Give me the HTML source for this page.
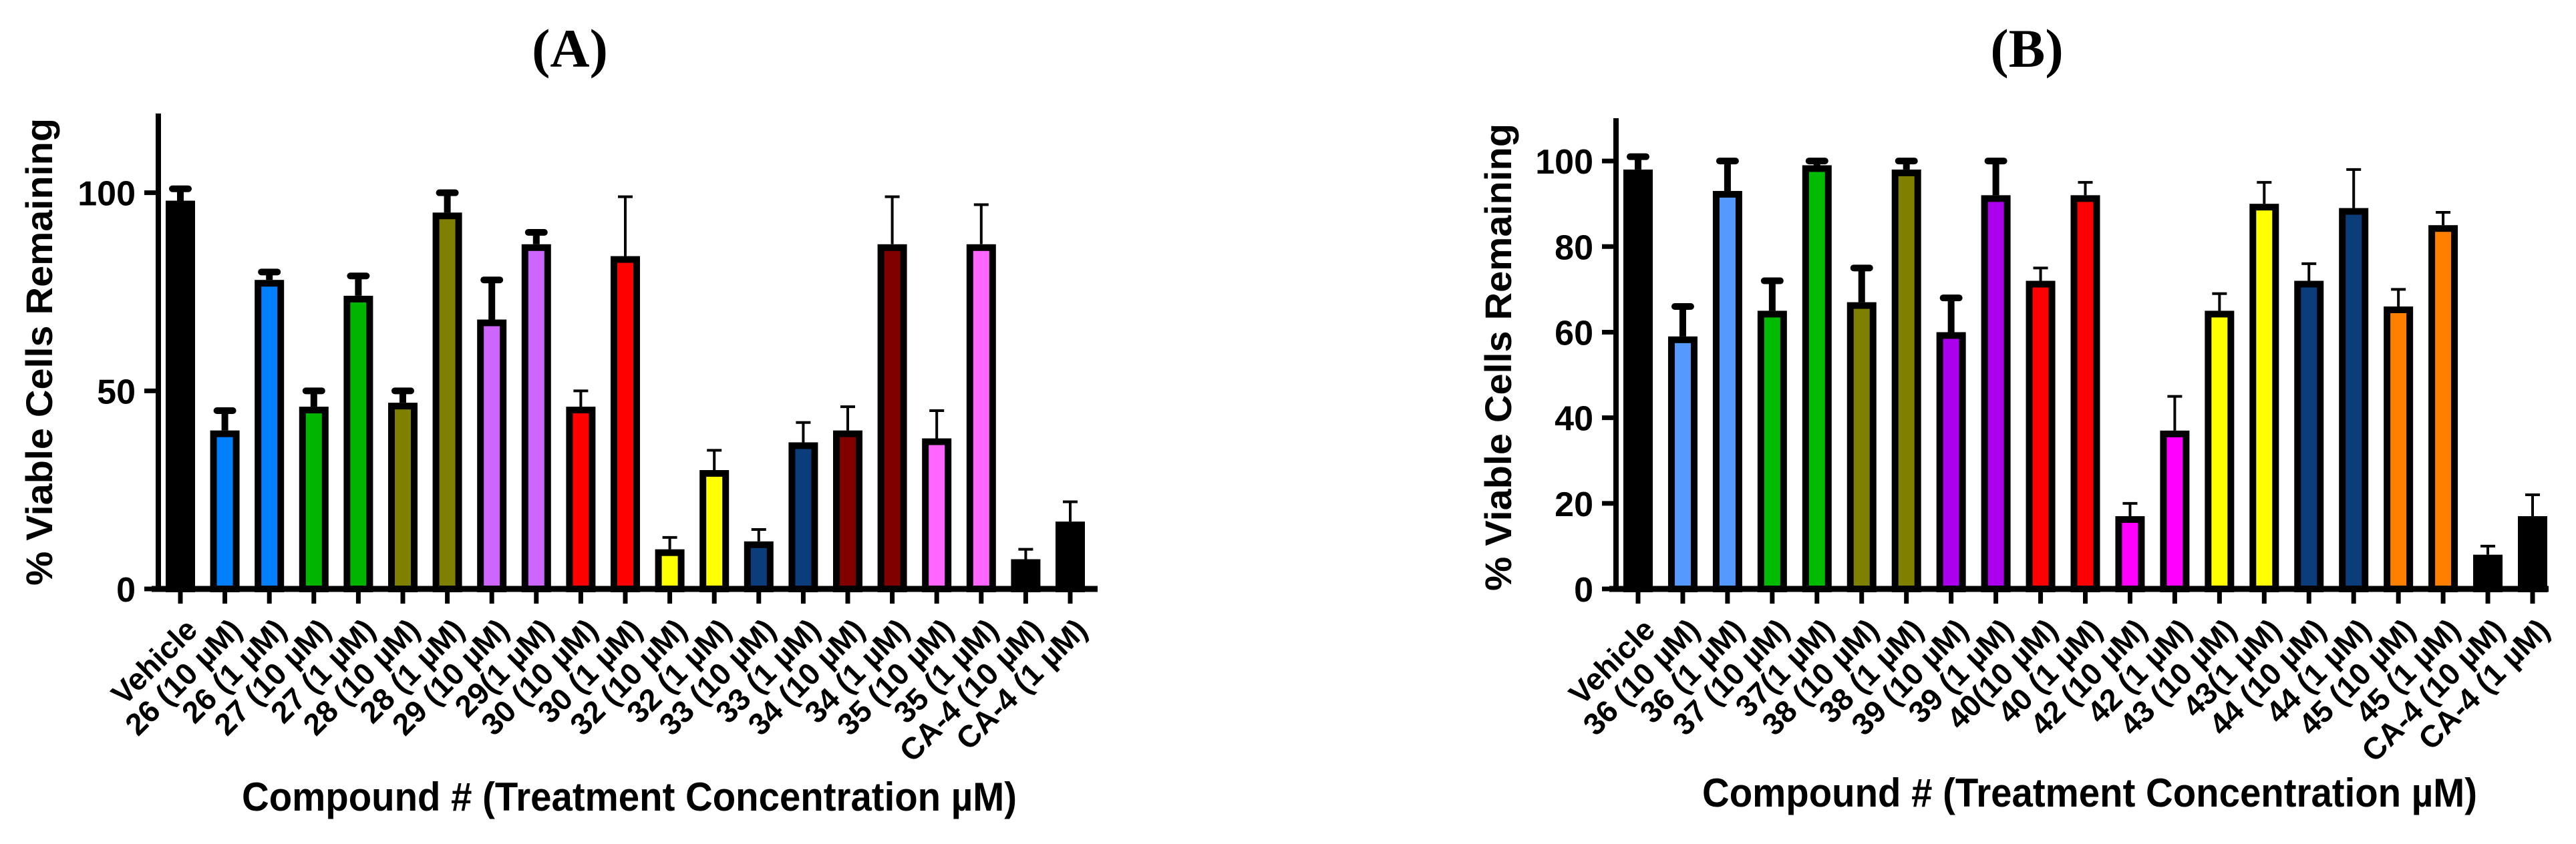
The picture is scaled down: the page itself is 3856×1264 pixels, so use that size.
<!DOCTYPE html>
<html><head><meta charset="utf-8"><style>
html,body{margin:0;padding:0;background:#fff;}
svg{display:block;}
text{font-family:"Liberation Sans",Arial,sans-serif;}
</style></head><body>
<svg id="chart" width="3856" height="1264" viewBox="0 0 3856 1264" xmlns="http://www.w3.org/2000/svg">
<text x="853" y="100" text-anchor="middle" style="font-family:'Liberation Serif',serif;font-weight:bold;font-size:82px">(A)</text>
<text x="3034" y="100" text-anchor="middle" style="font-family:'Liberation Serif',serif;font-weight:bold;font-size:82px">(B)</text>
<g id="pa"></g>
<g id="pb"></g>
</svg>
<script>
const catsA = ["Vehicle","26 (10 µM)","26 (1 µM)","27 (10 µM)","27 (1 µM)","28 (10 µM)","28 (1 µM)","29 (10 µM)","29(1 µM)","30 (10 µM)","30 (1 µM)","32 (10 µM)","32 (1 µM)","33 (10 µM)","33 (1 µM)","34 (10 µM)","34 (1 µM)","35 (10 µM)","35 (1 µM)","CA-4 (10 µM)","CA-4 (1 µM)"];
const valsA = [98,40,78,46,74,47,95,68,87,46,84,10,30,12,37,40,87,38,87,7.5,17];
const errA = [3,5,2,4,5,3,5,10,3,4,15,3,5,3,5,6,12,7,10,2.5,5];
const colorsA = ["#000000","#0080ff","#0080ff","#00b400","#00b400","#7f7f00","#7f7f00","#cc66ff","#cc66ff","#ff0000","#ff0000","#ffff00","#ffff00","#0a3d7a","#0a3d7a","#800000","#800000","#ff66ff","#ff66ff","#000000","#000000"];
const thickA = [1,1,1,1,1,1,1,1,1,0,0,0,0,0,0,0,0,0,0,0,0];
const ticksA = [0,50,100];

const catsB = ["Vehicle","36 (10 µM)","36 (1 µM)","37 (10 µM)","37(1 µM)","38 (10 µM)","38 (1 µM)","39 (10 µM)","39 (1 µM)","40(10 µM)","40 (1 µM)","42 (10 µM)","42 (1 µM)","43 (10 µM)","43(1 µM)","44 (10 µM)","44 (1 µM)","45 (10 µM)","45 (1 µM)","CA-4 (10 µM)","CA-4 (1 µM)"];
const valsB = [98,59,93,65,99,67,98,60,92,72,92,17,37,65,90,72,89,66,85,8,17];
const errB = [3,7,7,7,1,8,2,8,8,3,3,3,8,4,5,4,9,4,3,2,5];
const colorsB = ["#000000","#5599ff","#5599ff","#00bb00","#00bb00","#7f7f00","#7f7f00","#aa00ee","#aa00ee","#ff0000","#ff0000","#ff00ff","#ff00ff","#ffff00","#ffff00","#0a3d7a","#0a3d7a","#ff8000","#ff8000","#000000","#000000"];
const thickB = [1,1,1,1,1,1,1,1,1,0,0,0,0,0,0,0,0,0,0,0,0];
const ticksB = [0,20,40,60,80,100];

const NS="http://www.w3.org/2000/svg";
function mk(parent,tag,attrs,txt){const e=document.createElementNS(NS,tag);for(const k in attrs)e.setAttribute(k,attrs[k]);if(txt!==undefined)e.textContent=txt;parent.appendChild(e);return e;}

function draw(g,cfg,cats,vals,errs,colors,thick,ticks){
  const y=v=>cfg.y0-(v/cfg.ymax)*(cfg.y0-cfg.ytop);
  const x=i=>cfg.x0+i*cfg.step;
  cats.forEach((c,i)=>{
    const cx=x(i), bw=44, top=y(vals[i]);
    const e=errs[i], sw=thick[i]?10:4;
    const eb=mk(g,'line',{x1:cx,x2:cx,y1:top,y2:y(vals[i]+e),stroke:'#000','stroke-width':sw});
    
    
    const cap=mk(g,'line',{x1:cx-12,x2:cx+12,y1:y(vals[i]+e),y2:y(vals[i]+e),stroke:'#000','stroke-width':sw,'stroke-linecap':thick[i]?'round':'butt'});
    if(!thick[i]){cap.setAttribute('x1',cx-11);cap.setAttribute('x2',cx+11);}
    
    
    const r=mk(g,'rect',{x:cx-bw/2+5,y:top+5,width:bw-10,height:Math.max(0,cfg.y0-top-5),fill:colors[i],stroke:'#000','stroke-width':10});
    
    
    const t=mk(g,'line',{x1:cx,x2:cx,y1:cfg.y0,y2:cfg.y0+22,stroke:'#000','stroke-width':7});
    
    
    const lx=cx+28, ly=cfg.y0+64;
    const l=mk(g,'text',{x:lx,y:ly,'text-anchor':'end',transform:`rotate(-45 ${lx} ${ly})`,style:'font-weight:bold;font-size:46px'},c);
    
    
  });
  const ya=mk(g,'line',{x1:cfg.ax,x2:cfg.ax,y1:cfg.ytop,y2:cfg.y0+4,stroke:'#000','stroke-width':8});
  
  
  const xa=mk(g,'line',{x1:cfg.ax-10,x2:cfg.xend,y1:cfg.y0,y2:cfg.y0,stroke:'#000','stroke-width':9});
  
  
  ticks.forEach(v=>{
    const t=mk(g,'line',{x1:cfg.ax-21,x2:cfg.ax,y1:y(v),y2:y(v),stroke:'#000','stroke-width':7});
    
    
    const tl=mk(g,'text',{x:cfg.ax-34,y:y(v)+19,'text-anchor':'end',style:'font-weight:bold;font-size:52px'},String(v));
    
    
  });
  const yt=mk(g,'text',{x:cfg.ytx,y:cfg.yty,'text-anchor':'middle',transform:`rotate(-90 ${cfg.ytx} ${cfg.yty})`,textLength:700,lengthAdjust:'spacingAndGlyphs',style:'font-weight:bold;font-size:56px'},'% Viable Cells Remaining');
  
  
  const xt=mk(g,'text',{x:cfg.xtx,y:cfg.xty,'text-anchor':'middle',textLength:1160,lengthAdjust:'spacingAndGlyphs',style:'font-weight:bold;font-size:60px'},'Compound # (Treatment Concentration µM)');
  
  
}
draw(document.getElementById('pa'),{x0:270,step:66.6,y0:882,ytop:170,ymax:120,ax:237,xend:1643,ytx:78,yty:527,xtx:942,xty:1214},catsA,valsA,errA,colorsA,thickA,ticksA);
draw(document.getElementById('pb'),{x0:2452,step:66.95,y0:882,ytop:177,ymax:110,ax:2419,xend:3815,ytx:2262,yty:535,xtx:3128,xty:1208},catsB,valsB,errB,colorsB,thickB,ticksB);
</script>
</body></html>
